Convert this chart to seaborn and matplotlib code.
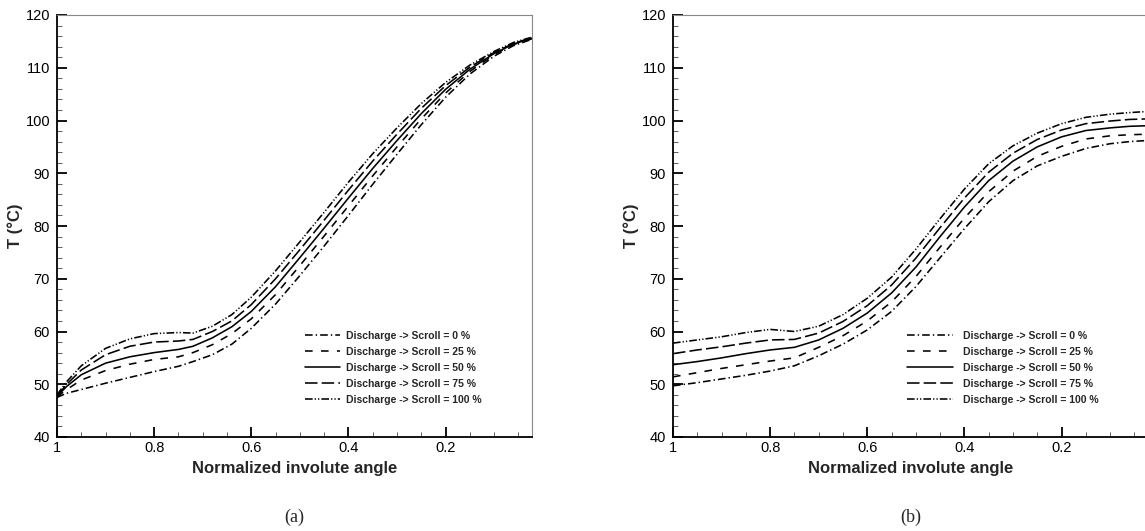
import matplotlib
matplotlib.use("Agg")
import matplotlib.pyplot as plt
from matplotlib.ticker import MultipleLocator, FormatStrFormatter
import seaborn as sns
import pandas as pd

# ---- data ----
series_names = ["Discharge -> Scroll = 0 %", "Discharge -> Scroll = 25 %",
                "Discharge -> Scroll = 50 %", "Discharge -> Scroll = 75 %",
                "Discharge -> Scroll = 100 %"]

x_a = [1.0, 0.98, 0.95, 0.9, 0.85, 0.8, 0.75, 0.72, 0.68, 0.64, 0.6, 0.55, 0.5,
       0.45, 0.4, 0.35, 0.3, 0.25, 0.2, 0.15, 0.1, 0.06, 0.022]
a_0 = [47.5, 48.3, 49.0, 50.2, 51.3, 52.4, 53.4, 54.3, 55.6, 57.6, 60.6, 65.2, 70.6,
       76.2, 82.0, 87.9, 93.6, 99.2, 104.4, 108.8, 112.2, 114.2, 115.4]
a_25 = [47.6, 49.0, 50.8, 52.6, 53.8, 54.7, 55.2, 56.0, 57.5, 59.6, 62.4, 67.0, 72.5,
        78.1, 83.8, 89.5, 95.0, 100.3, 105.2, 109.3, 112.5, 114.4, 115.5]
a_50 = [47.7, 49.6, 51.8, 54.0, 55.2, 56.0, 56.6, 57.2, 58.8, 60.9, 63.8, 68.5, 74.0,
        79.6, 85.3, 90.9, 96.2, 101.3, 105.9, 109.7, 112.7, 114.5, 115.6]
a_75 = [47.8, 50.0, 52.7, 55.6, 57.2, 58.0, 58.2, 58.5, 60.0, 62.0, 65.1, 70.0, 75.5,
        81.1, 86.8, 92.3, 97.4, 102.3, 106.6, 110.1, 112.9, 114.6, 115.7]
a_100 = [48.0, 50.5, 53.5, 56.8, 58.6, 59.6, 59.8, 59.7, 61.0, 63.2, 66.5, 71.5, 77.0,
         82.6, 88.3, 93.7, 98.6, 103.2, 107.2, 110.5, 113.1, 114.8, 115.8]

x_b = [1.0, 0.95, 0.9, 0.85, 0.8, 0.75, 0.7, 0.65, 0.6, 0.55, 0.5, 0.45, 0.4,
       0.35, 0.3, 0.25, 0.2, 0.15, 0.1, 0.06, 0.025]
b_0 = [49.7, 50.3, 51.0, 51.7, 52.5, 53.5, 55.4, 57.6, 60.3, 63.8, 68.5, 74.0, 79.5,
       84.6, 88.6, 91.4, 93.2, 94.7, 95.6, 96.0, 96.2]
b_25 = [51.4, 52.2, 53.0, 53.7, 54.4, 55.0, 57.0, 59.2, 62.0, 65.6, 70.4, 76.0, 81.5,
        86.5, 90.4, 93.2, 95.1, 96.5, 97.1, 97.3, 97.4]
b_50 = [53.7, 54.3, 55.0, 55.8, 56.5, 57.0, 58.4, 60.6, 63.5, 67.3, 72.2, 78.0, 83.6,
        88.6, 92.3, 95.0, 96.9, 98.1, 98.6, 98.9, 99.0]
b_75 = [55.8, 56.5, 57.1, 57.8, 58.4, 58.5, 59.7, 61.9, 64.9, 68.8, 73.9, 79.7, 85.3,
        90.2, 93.8, 96.4, 98.2, 99.4, 99.9, 100.2, 100.3]
b_100 = [57.8, 58.4, 59.0, 59.8, 60.4, 60.0, 61.0, 63.2, 66.3, 70.3, 75.6, 81.4, 87.0,
         91.8, 95.2, 97.6, 99.4, 100.6, 101.2, 101.5, 101.7]

x_ticks = [1.0, 0.8, 0.6, 0.4, 0.2]
y_ticks = [40, 50, 60, 70, 80, 90, 100, 110, 120]
panel_labels = ["(a)", "(b)"]


def long_df(x, ys):
    rows = []
    for name, y in zip(series_names, ys):
        for xi, yi in zip(x, y):
            rows.append({"x": xi, "T": yi, "series": name})
    return pd.DataFrame(rows)


df_a = long_df(x_a, [a_0, a_25, a_50, a_75, a_100])
df_b = long_df(x_b, [b_0, b_25, b_50, b_75, b_100])

# ---- style ----
sns.set_style("ticks")
plt.rcParams["font.family"] = ["Liberation Sans", "DejaVu Sans"]
plt.rcParams["lines.scale_dashes"] = False

dash_map = {
    series_names[0]: (5.5, 2.2, 1.0, 2.2),
    series_names[1]: (5.5, 6.0),
    series_names[2]: "",
    series_names[3]: (9.0, 3.0),
    series_names[4]: (5.5, 1.5, 0.9, 1.5, 0.9, 1.5),
}

W, H = 1145, 531
fig = plt.figure(figsize=(W / 100, H / 100), dpi=100)
ax_a = fig.add_axes([57 / W, (H - 437) / H, 475 / W, 422 / H])
ax_b = fig.add_axes([673 / W, (H - 437) / H, 475 / W, 422 / H])

# (anchor position, handle length, handle-text pad)
legend_cfg = [((0.522, 0.252), 3.4, 0.5), ((0.493, 0.252), 4.4, 0.95)]

for ax, df, lab, (lpos, hl, htp) in zip([ax_a, ax_b], [df_a, df_b], panel_labels,
                                        legend_cfg):
    sns.lineplot(data=df, x="x", y="T", style="series", style_order=series_names,
                 dashes=dash_map, color="black", linewidth=1.15, ax=ax,
                 estimator=None, sort=False)
    ax.set_xlim(1.0, 0.022)
    ax.set_ylim(40, 120)
    ax.set_xticks(x_ticks)
    ax.set_yticks(y_ticks)
    ax.xaxis.set_major_formatter(FormatStrFormatter("%g"))
    ax.xaxis.set_minor_locator(MultipleLocator(0.05))
    ax.yaxis.set_minor_locator(MultipleLocator(2))
    ax.tick_params(which="major", direction="in", length=7.5, width=1.3,
                   labelsize=10.5, colors="black", pad=3)
    ax.tick_params(which="minor", direction="in", length=3.8, width=0.6,
                   colors="#444444")
    ax.tick_params(axis="y", which="major", pad=5)
    for s in ["left", "bottom"]:
        ax.spines[s].set_color("black")
        ax.spines[s].set_linewidth(1.3)
    for s in ["top", "right"]:
        ax.spines[s].set_visible(True)
        ax.spines[s].set_color("#888888")
        ax.spines[s].set_linewidth(0.8)
    ax.set_xlabel("Normalized involute angle", fontsize=12, fontweight="bold",
                  labelpad=4)
    ax.set_ylabel("T (°C)", fontsize=12, fontweight="bold", labelpad=2)
    handles, labels = ax.get_legend_handles_labels()
    leg = ax.legend(handles, labels, loc="upper left", bbox_to_anchor=lpos,
                    frameon=False, prop={"size": 7.5, "weight": "bold"},
                    handlelength=hl, handletextpad=htp, labelspacing=0.58,
                    borderpad=0, borderaxespad=0)
    for line in leg.get_lines():
        line.set_linewidth(1.15)
    ax.text(0.5, -0.19, lab, transform=ax.transAxes, ha="center", va="center",
            fontsize=13, family=["Liberation Serif", "DejaVu Serif"])

fig.savefig("out.png", dpi=100)
